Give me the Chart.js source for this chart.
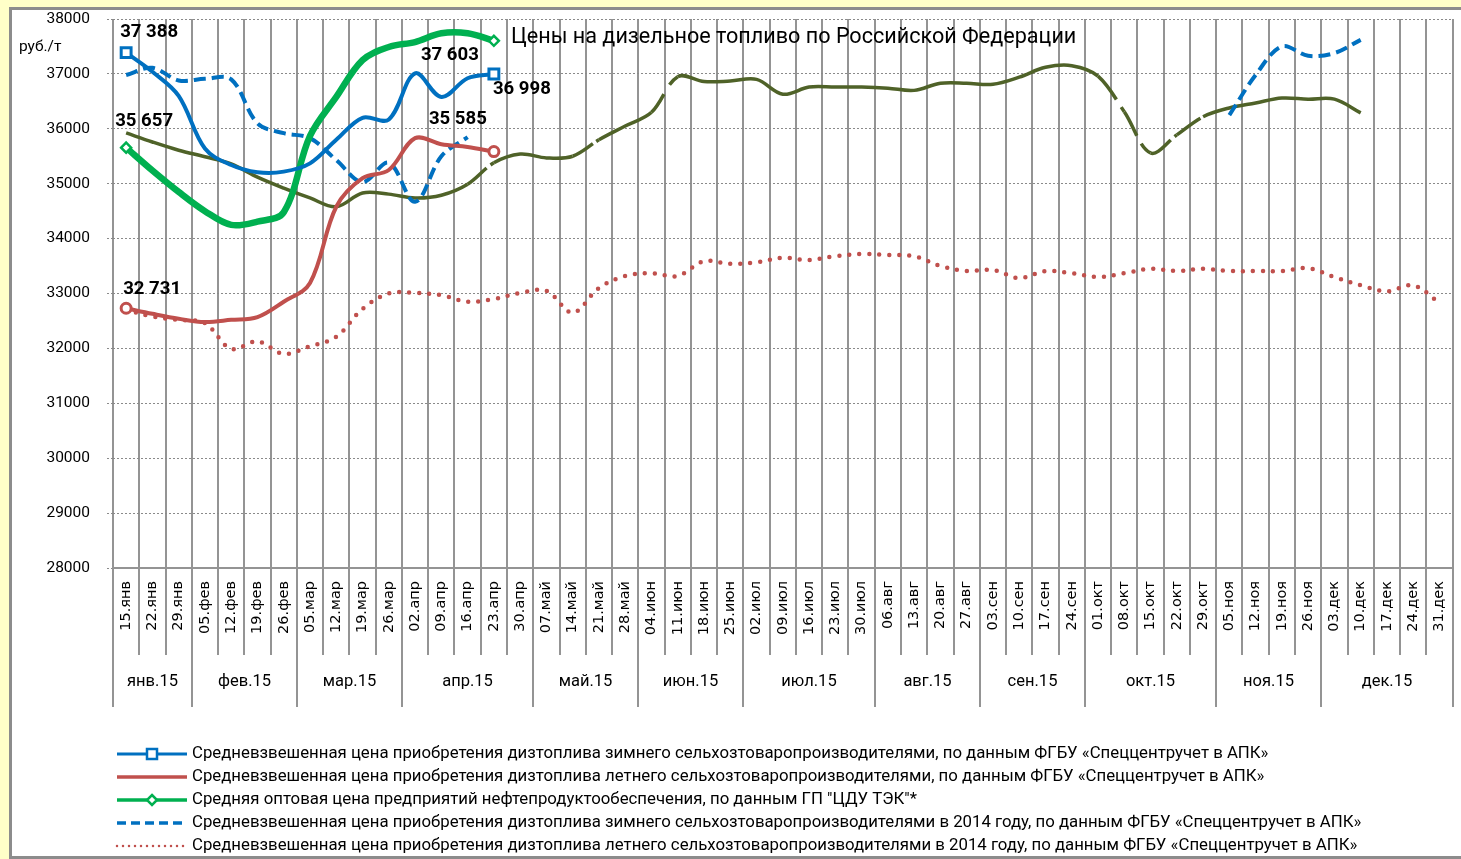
<!DOCTYPE html>
<html lang="ru">
<head>
<meta charset="utf-8">
<title>Цены на дизельное топливо</title>
<script src="https://cdn.jsdelivr.net/npm/chart.js@4.4.1/dist/chart.umd.min.js"></script>
<style>
  html, body { margin: 0; padding: 0; overflow: hidden; width: 1461px; height: 859px; background: #FFFFC8; }
  #frame { position: absolute; left: 9px; top: 7px; width: 1500px; height: 852px; box-sizing: border-box;
           background: #ffffff; border: 3px solid #8c8c8c; }
  #c { position: absolute; left: 0; top: 0; }
</style>
</head>
<body>
<div id="frame"></div>
<canvas id="c" width="1470" height="859"></canvas>
<script>
// Weekly categories of 2015 and the month groups under them
const weekLabels = ['15.янв','22.янв','29.янв','05.фев','12.фев','19.фев','26.фев','05.мар','12.мар','19.мар','26.мар',
  '02.апр','09.апр','16.апр','23.апр','30.апр','07.май','14.май','21.май','28.май','04.июн','11.июн','18.июн','25.июн',
  '02.июл','09.июл','16.июл','23.июл','30.июл','06.авг','13.авг','20.авг','27.авг','03.сен','10.сен','17.сен','24.сен',
  '01.окт','08.окт','15.окт','22.окт','29.окт','05.ноя','12.ноя','19.ноя','26.ноя','03.дек','10.дек','17.дек','24.дек','31.дек'];
const monthLabels = ['янв.15','фев.15','мар.15','апр.15','май.15','июн.15','июл.15','авг.15','сен.15','окт.15','ноя.15','дек.15'];
const yTicks = [28000, 29000, 30000, 31000, 32000, 33000, 34000, 35000, 36000, 37000, 38000];

// Prices, руб./т
const winter2015 = [37388, 37040, 36600, 35640, 35340, 35210, 35220, 35370, 35800, 36200, 36170, 37010, 36580, 36920, 36998];
const summer2015 = [32731, 32630, 32540, 32480, 32520, 32570, 32850, 33190, 34580, 35100, 35250, 35830, 35720, 35670, 35585];
const wholesale2015 = [35657, 35240, 34850, 34500, 34250, 34310, 34480, 35870, 36580, 37250, 37490, 37580, 37740, 37740, 37603];
const winter2014 = [36980, 37110, 36880, 36910, 36900, 36100, 35920, 35830, 35430, 35030, 35380, 34670, 35500, 35850,
  null, null, null, null, null, null, null, null, null, null, null, null, null, null, null, null, null, null, null, null,
  null, null, null, null, null, null, null, null,
  36250, 36980, 37500, 37330, 37380, 37620, null, null, null];
const summer2014 = [32700, 32580, 32520, 32460, 31990, 32130, 31900, 32040, 32210, 32720, 33000, 33010, 32970, 32850,
  32900, 33010, 33050, 32650, 33100, 33320, 33370, 33320, 33590, 33540, 33570, 33650, 33610, 33680, 33720, 33700,
  33680, 33500, 33410, 33430, 33280, 33410, 33370, 33300, 33370, 33450, 33410, 33450, 33410, 33410, 33410, 33460,
  33300, 33150, 33040, 33150, 32830];
const wholesale2014 = [35925, 35760, 35610, 35490, 35360, 35120, 34920, 34740, 34580, 34830, 34810, 34740, 34790, 34990,
  35380, 35540, 35470, 35500, 35800, 36050, 36300, 36950, 36860, 36870, 36900, 36630, 36760, 36760, 36760, 36740,
  36700, 36830, 36830, 36810, 36940, 37120, 37150, 36960, 36310, 35560, 35890, 36220, 36380, 36470, 36560, 36540,
  36540, 36290, null, null, null];

const BLUE = '#0070C0', RED = '#C0504D', GREEN = '#00B050', OLIVE = '#4F6228', GRID = '#949494';
const SANS = 'Roboto, "Noto Sans", sans-serif';

// markers only on the first and last reported week
const endPoints = r => c => (c.dataIndex === 0 || c.dataIndex === c.dataset.data.length - 1) ? r : 0;

// short breaks in the olive line: segment index -> [dash before break, break]
const oliveBreaks = { 13: [25, 5], 17: [24, 4], 20: [22, 11], 37: [30, 9], 38: [27, 9], 39: [25, 5], 40: [29, 4] };

const datasets = [
  { label: 'Средневзвешенная цена приобретения дизтоплива зимнего сельхозтоваропроизводителями, по данным ФГБУ «Спеццентручет в АПК»',
    data: winter2015, borderColor: BLUE, borderWidth: 4, pointStyle: 'rect', pointRadius: endPoints(7),
    pointBorderWidth: 3, pointBackgroundColor: '#fff', pointBorderColor: BLUE, inLegend: true, legendWidth: 3 },
  { label: 'Средневзвешенная цена приобретения дизтоплива летнего сельхозтоваропроизводителями, по данным ФГБУ «Спеццентручет в АПК»',
    data: summer2015, borderColor: RED, borderWidth: 4, pointStyle: 'circle', pointRadius: endPoints(5),
    pointBorderWidth: 3, pointBackgroundColor: '#fff', pointBorderColor: RED, inLegend: true, legendWidth: 3.5, legendNoMarker: true },
  { label: 'Средняя оптовая цена предприятий нефтепродуктообеспечения, по данным ГП "ЦДУ ТЭК"*',
    data: wholesale2015, borderColor: GREEN, borderWidth: 6.5, pointStyle: 'rectRot', pointRadius: endPoints(5),
    pointBorderWidth: 2.5, pointBackgroundColor: '#fff', pointBorderColor: GREEN, inLegend: true, legendWidth: 3.5 },
  { label: 'Средневзвешенная цена приобретения дизтоплива зимнего сельхозтоваропроизводителями в 2014 году, по данным ФГБУ «Спеццентручет в АПК»',
    data: winter2014, borderColor: BLUE, borderWidth: 4, borderDash: [12, 6], pointRadius: 0,
    inLegend: true, legendWidth: 3.5, legendDash: [9, 5] },
  { label: 'Средневзвешенная цена приобретения дизтоплива летнего сельхозтоваропроизводителями в 2014 году, по данным ФГБУ «Спеццентручет в АПК»',
    data: summer2014, borderColor: RED, borderWidth: 4.5, borderDash: [0, 10], borderCapStyle: 'round', pointRadius: 0,
    inLegend: true, legendWidth: 2.5, legendDash: [0, 6] },
  { label: 'Средняя оптовая цена предприятий нефтепродуктообеспечения в 2014 году',
    data: wholesale2014, borderColor: OLIVE, borderWidth: 3.5, pointRadius: 0,
    segment: { borderDash: c => oliveBreaks[c.p0DataIndex] ? [...oliveBreaks[c.p0DataIndex], 1000] : undefined } }
];

const fmt = v => String(v).replace(/\B(?=(\d{3})+(?!\d))/g, ' ');

// value tags at the ends of the 2015 series
const valueTags = [
  { ds: 0, first: true,  dx: -6,  dy: -20, align: 'left' },
  { ds: 2, first: true,  dx: -11, dy: -26, align: 'left' },
  { ds: 1, first: true,  dx: -3,  dy: -19, align: 'left' },
  { ds: 2, first: false, dx: -15, dy: 15,  align: 'right' },
  { ds: 0, first: false, dx: -1,  dy: 15,  align: 'left' },
  { ds: 1, first: false, dx: -7,  dy: -32, align: 'right' }
];

const extras = {
  id: 'extras',
  afterDatasetsDraw(chart) {
    const { ctx } = chart;
    ctx.save();
    ctx.fillStyle = '#000';
    ctx.textBaseline = 'middle';
    ctx.font = 'bold 18.6px ' + SANS;
    valueTags.forEach(t => {
      const d = chart.data.datasets[t.ds].data;
      const idx = t.first ? 0 : d.length - 1;
      const pt = chart.getDatasetMeta(t.ds).data[idx];
      ctx.textAlign = t.align;
      ctx.fillText(fmt(d[idx]), pt.x + t.dx, pt.y + t.dy);
    });
    ctx.textAlign = 'left';
    ctx.font = '21.6px ' + SANS;
    ctx.fillText('Цены на дизельное топливо по Российской Федерации', 511, 38);
    ctx.font = '15.5px ' + SANS;
    ctx.fillText('руб./т', 19, 47);
    ctx.restore();
  },
  afterDraw(chart) {
    const { ctx, chartArea, scales: { x } } = chart;
    const step = x.getPixelForValue(1) - x.getPixelForValue(0);
    const left = x.getPixelForValue(0) - step / 2;
    const base = chartArea.bottom;
    ctx.save();
    ctx.strokeStyle = GRID;
    ctx.lineWidth = 2;
    ctx.beginPath();
    for (let i = 0; i <= weekLabels.length; i++) {
      const px = Math.round(left + i * step);
      ctx.moveTo(px, base); ctx.lineTo(px, 655);
    }
    ctx.stroke();
    // month row
    ctx.fillStyle = '#000';
    ctx.font = '16.5px ' + SANS;
    ctx.textAlign = 'center';
    ctx.textBaseline = 'middle';
    let start = 0;
    monthLabels.forEach(m => {
      const key = m.split('.')[0];
      const n = weekLabels.filter(w => w.endsWith('.' + key)).length;
      const x0 = Math.round(left + start * step), x1 = Math.round(left + (start + n) * step);
      ctx.beginPath(); ctx.moveTo(x0, base); ctx.lineTo(x0, 707); ctx.stroke();
      ctx.fillText(m, (x0 + x1) / 2, 682);
      start += n;
      if (start === weekLabels.length) { ctx.beginPath(); ctx.moveTo(x1, base); ctx.lineTo(x1, 707); ctx.stroke(); }
    });
    // legend
    ctx.textAlign = 'left';
    ctx.font = '16.8px ' + SANS;
    chart.data.datasets.filter(d => d.inLegend).forEach((d, k) => {
      const y = 754 + k * 23;
      ctx.save();
      ctx.strokeStyle = d.borderColor;
      ctx.lineWidth = d.legendWidth;
      ctx.setLineDash(d.legendDash || []);
      ctx.lineCap = d.borderCapStyle || 'butt';
      ctx.beginPath(); ctx.moveTo(117, y); ctx.lineTo(187, y); ctx.stroke();
      ctx.restore();
      if (d.pointStyle && !d.legendNoMarker) {
        ctx.save();
        ctx.strokeStyle = d.borderColor; ctx.fillStyle = '#fff'; ctx.lineWidth = 2.5;
        ctx.beginPath();
        if (d.pointStyle === 'rect') ctx.rect(147, y - 5, 10, 10);
        else if (d.pointStyle === 'rectRot') { ctx.moveTo(152, y - 5); ctx.lineTo(157, y); ctx.lineTo(152, y + 5); ctx.lineTo(147, y); ctx.closePath(); }
        else ctx.arc(152, y, 5, 0, Math.PI * 2);
        ctx.fill(); ctx.stroke();
        ctx.restore();
      }
      ctx.fillStyle = '#000';
      ctx.fillText(d.label, 192, y);
    });
    ctx.restore();
  }
};

new Chart(document.getElementById('c'), {
  type: 'line',
  data: { labels: weekLabels, datasets },
  options: {
    responsive: false,
    animation: false,
    devicePixelRatio: 1,
    layout: { padding: { top: 19, right: 7, bottom: 0, left: 0 } },
    elements: { line: { tension: 0.35, fill: false } },
    plugins: { legend: { display: false }, tooltip: { enabled: false } },
    scales: {
      x: {
        offset: true,
        grid: { offset: true, color: GRID, lineWidth: 2, drawTicks: false },
        border: { color: GRID, width: 2 },
        ticks: { autoSkip: false, minRotation: 90, maxRotation: 90, padding: 13, color: '#000',
                 font: { family: '"DejaVu Sans", sans-serif', size: 14.5 } },
        afterFit: s => { s.height = 291; }
      },
      y: {
        min: 28000, max: 38000,
        afterBuildTicks: s => { s.ticks = yTicks.map(v => ({ value: v })); },
        grid: { color: '#8a8a8a', lineWidth: 1, tickLength: 23, tickBorderDash: [0, 17, 2, 2, 2, 2] },
        border: { display: false, dash: [2, 2] },
        ticks: { padding: 0, color: '#000', font: { family: SANS, size: 15.5 }, callback: v => String(v) },
        afterFit: s => { s.width = 113; }
      }
    }
  },
  plugins: [extras]
});
</script>
</body>
</html>
